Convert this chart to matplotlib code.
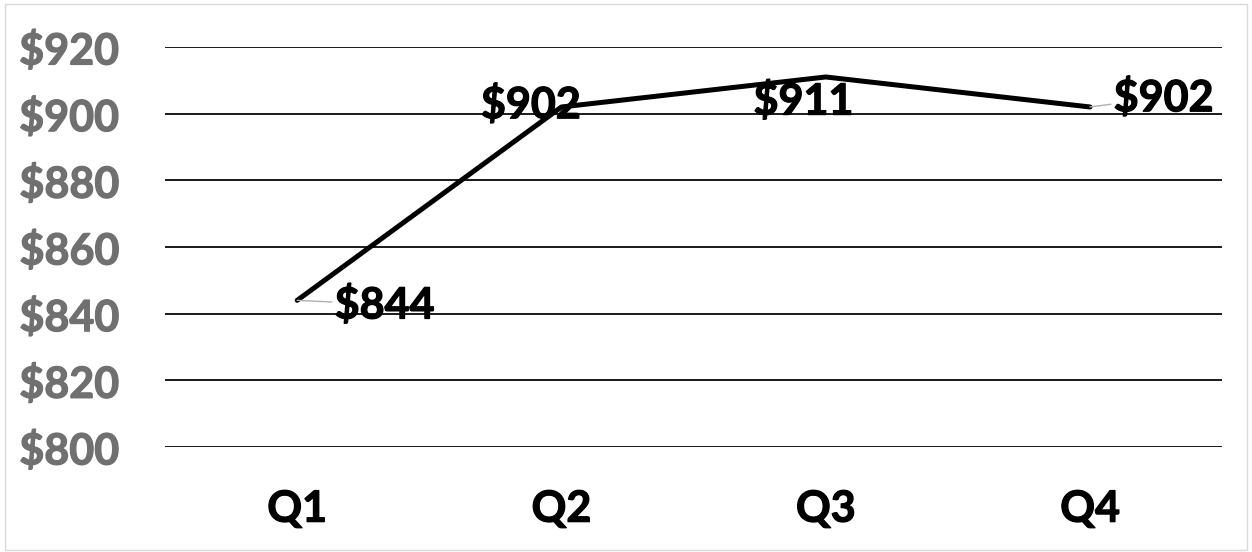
import matplotlib.pyplot as plt
import matplotlib.patheffects as pe
from matplotlib.patches import Rectangle

# Quarterly values
quarters = ["Q1", "Q2", "Q3", "Q4"]
values = [844, 902, 911, 902]
y_ticks = [800, 820, 840, 860, 880, 900, 920]

# Label offsets in points (dx, dy) relative to each point
label_offsets = [(27, -3), (-22, 2), (-16, -17), (17, 7)]

plt.rcParams['font.family'] = ['Lato', 'DejaVu Sans']

fig = plt.figure(figsize=(12.52, 5.52), dpi=100)
ax = fig.add_axes([0.1318, 0.1902, 0.8444, 0.7247])

x = list(range(len(quarters)))
ax.plot(x, values, color='black', linewidth=3.6, solid_capstyle='round', zorder=3)

# Gridlines
for t in y_ticks:
    ax.axhline(t, color='#1a1a1a', linewidth=1.4, zorder=1)

thick_grey = [pe.withStroke(linewidth=0.9, foreground='#707070')]
thick_black = [pe.withStroke(linewidth=0.9, foreground='black')]

ax.set_xlim(-0.5, 3.5)
ax.set_ylim(800, 920)
ax.set_yticks(y_ticks)
ax.set_yticklabels([f"${t}" for t in y_ticks], fontsize=31, fontweight='bold',
                   color='#707070', path_effects=thick_grey)
ax.set_xticks(x)
ax.set_xticklabels(quarters, fontsize=31, fontweight='bold', color='black',
                   path_effects=thick_black)
ax.tick_params(axis='both', length=0)
ax.tick_params(axis='y', pad=33)
ax.tick_params(axis='x', pad=30)
for s in ax.spines.values():
    s.set_visible(False)

# Data labels with leader lines
for xi, v, (dx, dy) in zip(x, values, label_offsets):
    ha = 'left' if dx > 0 else 'center'
    ax.annotate(f"${v}", xy=(xi, v), xytext=(dx, dy), textcoords='offset points',
                fontsize=31, fontweight='bold', color='black', ha=ha, va='center',
                path_effects=thick_black,
                arrowprops=dict(arrowstyle='-', color='#b0b0b0', lw=1.0,
                                shrinkA=0, shrinkB=0) if xi in (0, 3) else None,
                zorder=4)

# Thin frame around the whole chart
fig.patches.append(Rectangle((0.004, 0.004), 0.992, 0.989, transform=fig.transFigure,
                             fill=False, edgecolor='#d9d9d9', linewidth=1.0))

fig.savefig("out.png", dpi=100)
